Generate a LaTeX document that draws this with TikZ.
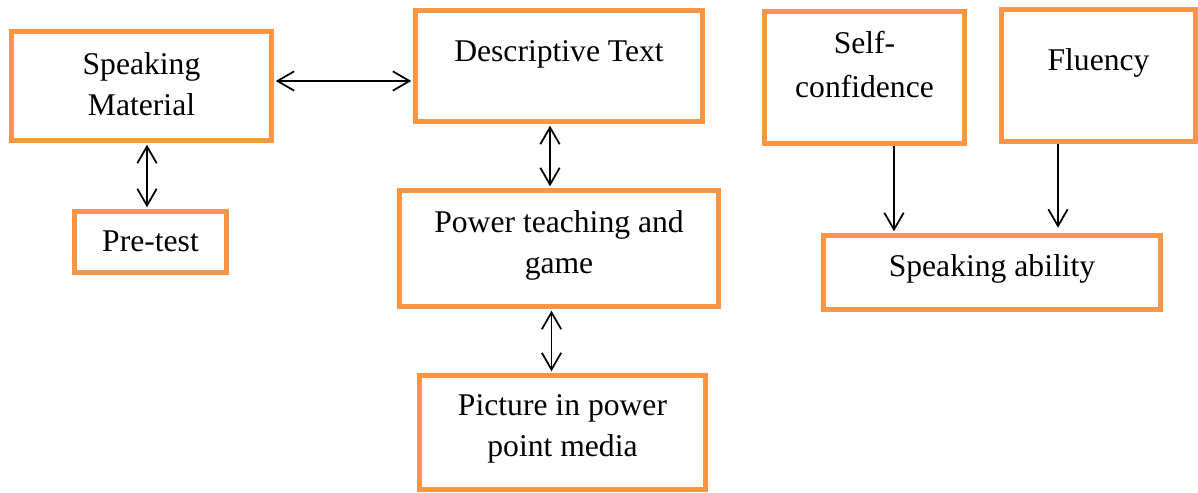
\documentclass[tikz,border=0pt]{standalone}
\usepackage{fontspec}
\setmainfont{Liberation Serif}
\usetikzlibrary{arrows.meta}
\definecolor{boxorange}{HTML}{F79646}
\begin{document}
\begin{tikzpicture}[x=0.02cm,y=-0.02cm,
  box/.style={draw=boxorange,line width=0.1cm,inner sep=0pt,fill=white},
  txt/.style={inner sep=0pt,align=center,font=\fontsize{18}{23.3}\selectfont},
  conn/.style={line width=1pt,black},
  dbl/.style={conn,{Straight Barb[length=9.5pt,width=11pt]}-{Straight Barb[length=9.5pt,width=11pt]},shorten <=1pt,shorten >=1pt},
  one/.style={conn,-{Straight Barb[length=9.5pt,width=11pt]},shorten >=1pt}]
\useasboundingbox (0,0) rectangle (1198,493);
% boxes
\node[box,minimum width=5.2cm,minimum height=2.18cm] (SM) at (141.5,86) {};
\node[box,minimum width=3.04cm,minimum height=1.22cm] (PT) at (150.5,242) {};
\node[box,minimum width=5.74cm,minimum height=2.22cm] (DT) at (559,66) {};
\node[box,minimum width=6.38cm,minimum height=2.32cm] (PW) at (559,248.5) {};
\node[box,minimum width=5.72cm,minimum height=2.28cm] (PI) at (562.5,432.5) {};
\node[box,minimum width=4.0cm,minimum height=2.64cm] (SC) at (864.5,77.5) {};
\node[box,minimum width=3.88cm,minimum height=2.64cm] (FL) at (1098.5,75.5) {};
\node[box,minimum width=6.74cm,minimum height=1.48cm] (SA) at (992,272.5) {};
% texts
\node[txt,anchor=north] (tSM) at (141.5,52.3) {Speaking\\Material};
\node[txt,anchor=base] (tPT) at (150.5,252) {Pre-test};
\node[txt,anchor=base] (tDT) at (559,62) {Descriptive Text};
\node[txt,anchor=north] (tPW) at (559,210.3) {Power teaching and\\game};
\node[txt,anchor=north] (tPI) at (562.5,394.3) {Picture in power\\point media};
\node[txt,anchor=north,font=\fontsize{18}{24.6}\selectfont] (tSC) at (864.5,31.3) {Self-\\confidence};
\node[txt,anchor=base] (tFL) at (1098.5,71) {Fluency};
\node[txt,anchor=base] (tSA) at (992,277) {Speaking ability};
% connectors
\draw[dbl] (SM.east |- 0,81) -- (DT.west |- 0,81);
\draw[dbl] (SM.south -| 147,0) -- (PT.north -| 147,0);
\draw[dbl] (DT.south -| 550,0) -- (PW.north -| 550,0);
\draw[dbl] (PW.south -| 551.5,0) -- (PI.north -| 551.5,0);
\draw[one] (SC.south -| 894,0) -- (SA.north -| 894,0);
\draw[one,shorten >=3pt] (FL.south -| 1058,0) -- (SA.north -| 1058,0);
\end{tikzpicture}
\end{document}
